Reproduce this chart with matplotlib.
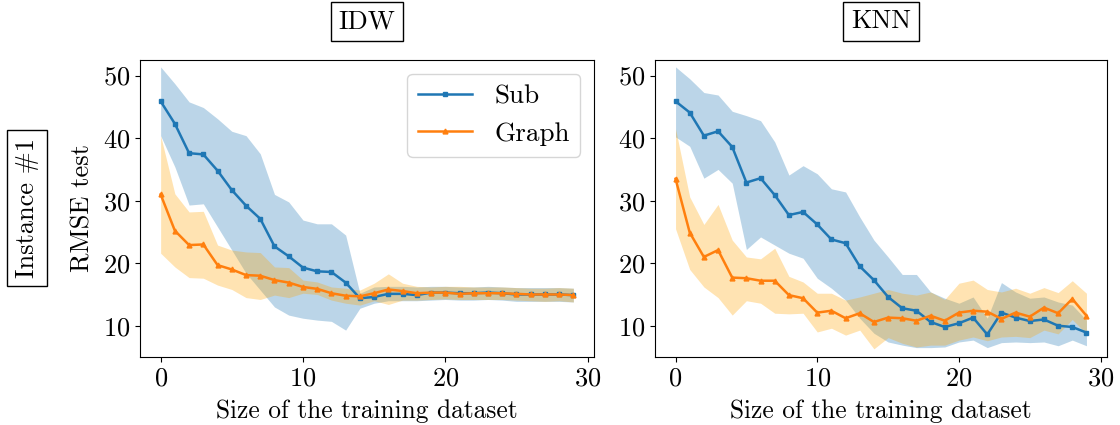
import matplotlib
matplotlib.use("Agg")
import matplotlib.pyplot as plt
import numpy as np

plt.rcParams['font.family'] = 'serif'
plt.rcParams['font.serif'] = ['cmr10', 'DejaVu Serif']
plt.rcParams['mathtext.fontset'] = 'cm'
plt.rcParams['axes.formatter.use_mathtext'] = True
plt.rcParams['font.size'] = 19

sizes = list(range(30))

# IDW
sub_idw = [45.9, 42.3, 37.6, 37.4, 34.8, 31.7, 29.2, 27.1, 22.7, 21.1, 19.3, 18.7, 18.6, 16.9, 14.4,
           14.6, 15.1, 15.1, 14.9, 15.3, 15.3, 15.2, 15.2, 15.3, 15.2, 15.0, 15.0, 15.0, 15.0, 14.9]
sub_idw_hi = [51.4, 48.7, 45.8, 44.9, 43.1, 41.1, 40.4, 37.5, 31.0, 29.8, 26.9, 26.3, 26.3, 24.5, 15.2,
              16.2, 16.3, 16.3, 16.2, 16.3, 16.3, 16.2, 16.2, 16.3, 16.2, 16.1, 16.1, 16.1, 16.1, 16.0]
sub_idw_lo = [40.4, 35.4, 29.3, 29.5, 25.8, 22.1, 18.4, 15.7, 13.0, 11.7, 11.2, 10.9, 10.7, 9.3, 12.8,
              13.6, 14.0, 14.0, 14.0, 14.1, 14.2, 14.1, 14.1, 14.2, 14.1, 13.9, 13.9, 13.9, 13.9, 13.8]
graph_idw = [31.0, 25.2, 22.9, 23.0, 19.7, 19.0, 18.1, 18.0, 17.3, 16.9, 16.2, 15.9, 15.2, 14.8, 14.7,
             15.2, 15.8, 15.55, 15.2, 15.3, 15.3, 15.1, 15.2, 15.2, 15.2, 15.1, 15.0, 15.0, 15.0, 14.9]
graph_idw_hi = [40.4, 31.1, 28.2, 28.3, 22.9, 22.1, 21.8, 21.7, 19.4, 19.3, 17.3, 17.0, 16.2, 16.0, 15.7,
                16.8, 18.3, 16.8, 16.3, 16.2, 16.3, 16.3, 16.2, 16.2, 16.2, 16.1, 16.0, 16.0, 16.1, 16.0]
graph_idw_lo = [21.6, 19.4, 17.7, 17.6, 16.5, 15.8, 14.5, 14.2, 14.9, 14.5, 15.2, 15.0, 14.1, 13.6, 13.3,
                14.0, 13.4, 14.1, 14.1, 14.2, 14.3, 14.2, 14.2, 14.2, 14.2, 14.1, 14.0, 13.9, 14.0, 13.8]

# KNN
sub_knn = [45.9, 44.1, 40.4, 41.1, 38.6, 32.9, 33.6, 30.9, 27.7, 28.2, 26.2, 23.8, 23.2, 19.5, 17.3,
           14.6, 12.8, 12.4, 10.6, 9.8, 10.4, 11.3, 8.6, 12.1, 11.3, 10.75, 11.0, 10.0, 9.8, 8.9]
sub_knn_hi = [51.4, 49.5, 47.3, 46.9, 44.3, 43.6, 42.8, 39.4, 34.1, 35.6, 34.3, 31.9, 31.4, 27.4, 23.7,
              21.0, 18.2, 18.2, 15.4, 14.4, 13.6, 14.6, 11.2, 16.9, 15.4, 14.4, 14.6, 13.8, 13.3, 10.9]
sub_knn_lo = [40.2, 38.7, 33.6, 35.0, 32.8, 22.2, 24.2, 22.9, 21.6, 20.8, 17.6, 16.0, 14.1, 11.2, 8.8,
              7.4, 6.9, 6.5, 6.5, 6.6, 7.4, 7.7, 6.5, 7.3, 7.4, 7.3, 7.4, 6.8, 7.7, 6.8]
graph_knn = [33.5, 24.9, 21.0, 22.1, 17.7, 17.6, 17.2, 17.2, 14.9, 14.4, 12.1, 12.4, 11.2, 12.0, 10.6,
             11.3, 11.2, 10.8, 11.6, 10.8, 12.1, 12.4, 12.25, 11.1, 12.1, 11.45, 12.9, 12.0, 14.3, 11.6]
graph_knn_hi = [41.5, 30.6, 26.2, 29.4, 23.7, 21.0, 20.7, 22.4, 17.9, 17.0, 15.2, 15.2, 14.1, 14.6, 15.2,
                15.8, 15.2, 14.9, 15.4, 14.2, 16.8, 17.3, 15.8, 15.4, 16.0, 15.2, 16.1, 15.3, 17.2, 15.2]
graph_knn_lo = [25.5, 19.0, 16.2, 14.5, 11.7, 14.0, 13.6, 12.0, 11.9, 12.0, 9.0, 9.6, 8.5, 9.3, 6.3,
                8.1, 7.2, 6.6, 6.9, 6.9, 7.7, 8.2, 7.6, 8.2, 8.3, 8.1, 9.3, 8.7, 11.0, 8.7]

fig = plt.figure(figsize=(11.2, 4.25), dpi=100)
ax1 = fig.add_axes([140/1120, 68/425, 454/1120, 297/425])
ax2 = fig.add_axes([655/1120, 68/425, 452/1120, 297/425])

panels = [
    (ax1, "IDW", sub_idw, sub_idw_lo, sub_idw_hi, graph_idw, graph_idw_lo, graph_idw_hi),
    (ax2, "KNN", sub_knn, sub_knn_lo, sub_knn_hi, graph_knn, graph_knn_lo, graph_knn_hi),
]

for ax, name, s, slo, shi, g, glo, ghi in panels:
    ax.fill_between(sizes, slo, shi, color='C0', alpha=0.3, linewidth=0)
    ax.fill_between(sizes, glo, ghi, color='orange', alpha=0.3, linewidth=0)
    ax.plot(sizes, s, color='C0', marker='s', markersize=3.5, linewidth=1.8, label='Sub')
    ax.plot(sizes, g, color='C1', marker='^', markersize=3.5, linewidth=1.8, label='Graph')
    ax.set_ylim(5, 52.5)
    ax.set_xticks([0, 10, 20, 30])
    ax.set_yticks([10, 20, 30, 40, 50])
    ax.set_xlabel("Size of the training dataset", fontsize=18.3, labelpad=6)
    ax.text(0.5, 1.13, name, transform=ax.transAxes, ha='center', va='center',
            bbox=dict(boxstyle='square,pad=0.3', facecolor='white', edgecolor='black'))

ax1.set_ylabel("RMSE test", labelpad=6)
ax1.legend(loc='upper right', fontsize=19.5)

fig.text(27/1120, 1 - 208/425, "Instance #1", rotation=90, ha='center', va='center', fontsize=19,
         bbox=dict(boxstyle='square,pad=0.3', facecolor='white', edgecolor='black'))

fig.savefig("out.png", dpi=100)
